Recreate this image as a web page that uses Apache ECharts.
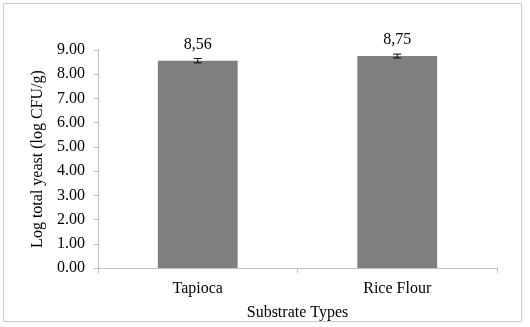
<!DOCTYPE html>
<html>
<head>
<meta charset="utf-8">
<script src="https://cdn.jsdelivr.net/npm/echarts@6/dist/echarts.min.js"></script>
<style>
  html, body { margin: 0; padding: 0; background: #fff; }
  #main { width: 530px; height: 327px; }
</style>
</head>
<body>
<div id="main"></div>
<script>
// substrate data
const categories = ["Tapioca", "Rice Flour"];
const yeastMeans = [8.56, 8.75];
const yeastErrors = [0.09, 0.08];

const font = "Liberation Serif";

const chart = echarts.init(document.getElementById("main"));

const errorData = yeastMeans.map((v, i) => [i, v - yeastErrors[i], v + yeastErrors[i]]);

const option = {
  animation: false,
  graphic: [
    {
      type: "rect",
      shape: { x: 3.5, y: 3.5, width: 518, height: 318 },
      style: { fill: "none", stroke: "#c8c8c8", lineWidth: 1 },
      silent: true,
    },
  ],
  grid: { left: 98, right: 33, top: 50, bottom: 59 },
  xAxis: {
    type: "category",
    data: categories,
    name: "Substrate Types",
    nameLocation: "middle",
    nameGap: 37,
    nameTextStyle: { fontFamily: font, fontSize: 16, color: "#000" },
    axisLine: { lineStyle: { color: "#bfbfbf" } },
    axisTick: { show: true, alignWithLabel: false, length: 5, lineStyle: { color: "#bfbfbf" } },
    axisLabel: { fontFamily: font, fontSize: 16, color: "#000", margin: 13 },
  },
  yAxis: {
    type: "value",
    min: 0,
    max: 9,
    interval: 1,
    name: "Log total yeast (log CFU/g)",
    nameLocation: "middle",
    nameGap: 51,
    nameTextStyle: { fontFamily: font, fontSize: 16, color: "#000" },
    axisLine: { show: true, lineStyle: { color: "#bfbfbf" } },
    axisTick: { show: true, length: 4, lineStyle: { color: "#bfbfbf" } },
    splitLine: { show: false },
    axisLabel: {
      fontFamily: font,
      fontSize: 16,
      color: "#000",
      margin: 13,
      formatter: (v) => v.toFixed(2),
    },
  },
  series: [
    {
      type: "bar",
      data: yeastMeans,
      barWidth: "40%",
      itemStyle: { color: "#7f7f7f" },
      label: {
        show: true,
        position: "top",
        distance: 8,
        fontFamily: font,
        fontSize: 16,
        color: "#000",
        formatter: (p) => p.value.toFixed(2).replace(".", ","),
      },
    },
    {
      // error bars
      type: "custom",
      data: errorData,
      z: 10,
      renderItem: function (params, api) {
        const x = api.value(0);
        const lo = api.coord([x, api.value(1)]);
        const hi = api.coord([x, api.value(2)]);
        const w = 4;
        const style = { stroke: "#000", lineWidth: 1 };
        return {
          type: "group",
          children: [
            { type: "line", shape: { x1: hi[0], y1: hi[1], x2: lo[0], y2: lo[1] }, style },
            { type: "line", shape: { x1: hi[0] - w, y1: hi[1], x2: hi[0] + w, y2: hi[1] }, style },
            { type: "line", shape: { x1: lo[0] - w, y1: lo[1], x2: lo[0] + w, y2: lo[1] }, style },
          ],
        };
      },
    },
  ],
};

chart.setOption(option);
</script>
</body>
</html>
